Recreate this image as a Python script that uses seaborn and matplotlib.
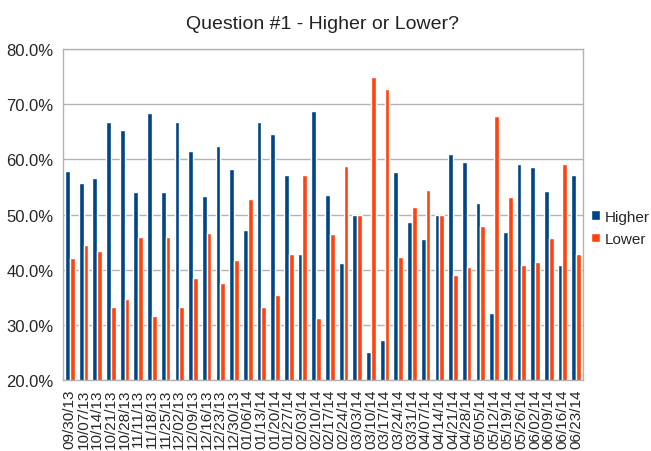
import pandas as pd
import numpy as np
import matplotlib
matplotlib.use("Agg")
import matplotlib.pyplot as plt
import seaborn as sns
from matplotlib.ticker import PercentFormatter, FixedLocator

# Weekly dates (11/04/13 missing in the source)
weeks = ["09/30/13", "10/07/13", "10/14/13", "10/21/13", "10/28/13", "11/11/13",
         "11/18/13", "11/25/13", "12/02/13", "12/09/13", "12/16/13", "12/23/13",
         "12/30/13", "01/06/14", "01/13/14", "01/20/14", "01/27/14", "02/03/14",
         "02/10/14", "02/17/14", "02/24/14", "03/03/14", "03/10/14", "03/17/14",
         "03/24/14", "03/31/14", "04/07/14", "04/14/14", "04/21/14", "04/28/14",
         "05/05/14", "05/12/14", "05/19/14", "05/26/14", "06/02/14", "06/09/14",
         "06/16/14", "06/23/14"]

higher = [57.8, 55.7, 56.7, 66.7, 65.4, 54.0, 68.4, 54.0, 66.7, 61.5, 53.3, 62.5,
          58.3, 47.1, 66.7, 64.6, 57.1, 42.9, 68.8, 53.6, 41.2, 50.0, 25.0, 27.3,
          57.7, 48.6, 45.5, 50.0, 60.9, 59.6, 52.1, 32.1, 46.9, 59.1, 58.6, 54.2,
          40.9, 57.1]
lower = [42.2, 44.4, 43.4, 33.3, 34.6, 46.0, 31.6, 46.0, 33.3, 38.5, 46.7, 37.5,
         41.7, 52.9, 33.3, 35.4, 42.9, 57.1, 31.3, 46.4, 58.8, 50.0, 75.0, 72.7,
         42.3, 51.4, 54.5, 50.0, 39.1, 40.4, 47.9, 67.9, 53.1, 40.9, 41.4, 45.8,
         59.1, 42.9]

df = pd.DataFrame({"week": weeks, "Higher": higher, "Lower": lower})
long = df.melt(id_vars="week", var_name="answer", value_name="pct")

sns.set_style("white")
plt.rcParams["font.family"] = ["Liberation Sans", "DejaVu Sans"]

fig = plt.figure(figsize=(6.51, 4.52), dpi=100)
ax = fig.add_axes([63 / 651, 1 - 381 / 452, 520 / 651, 331 / 452])

sns.barplot(data=long, x="week", y="pct", hue="answer",
            palette={"Higher": "#004586", "Lower": "#ff420e"},
            width=0.7, gap=0, saturation=1, ax=ax, legend=True)

ax.set_ylim(20, 80)
ax.set_xlim(-0.5, len(weeks) - 0.5)
ax.set_yticks(range(20, 81, 10))
ax.yaxis.set_major_formatter(PercentFormatter(decimals=1))
ax.grid(axis="y", color="#b3b3b3", linewidth=1)
ax.set_axisbelow(True)
for s in ax.spines.values():
    s.set_color("#b3b3b3")
    s.set_linewidth(1)

ax.set_xlabel("")
ax.set_ylabel("")
ax.tick_params(axis="x", which="major", length=0, rotation=90, labelsize=11, pad=6)
ax.xaxis.set_minor_locator(FixedLocator(np.arange(-0.5, len(weeks), 1)))
ax.tick_params(axis="x", which="minor", length=5, color="#b3b3b3", width=1)
ax.tick_params(axis="y", length=5, color="#b3b3b3", width=1, labelsize=12, pad=2)
for lab in ax.get_xticklabels():
    lab.set_verticalalignment("top")

ax.set_title("Question #1 - Higher or Lower?", fontsize=14, pad=15, color="#222222")

handles, labels = ax.get_legend_handles_labels()
ax.legend(handles, labels, loc="center left", bbox_to_anchor=(1.015, 0.46),
          frameon=False, fontsize=11, handlelength=0.6, handleheight=0.6,
          handletextpad=0.3, labelspacing=0.55, borderaxespad=0, borderpad=0)

fig.savefig("out.png", dpi=100)
